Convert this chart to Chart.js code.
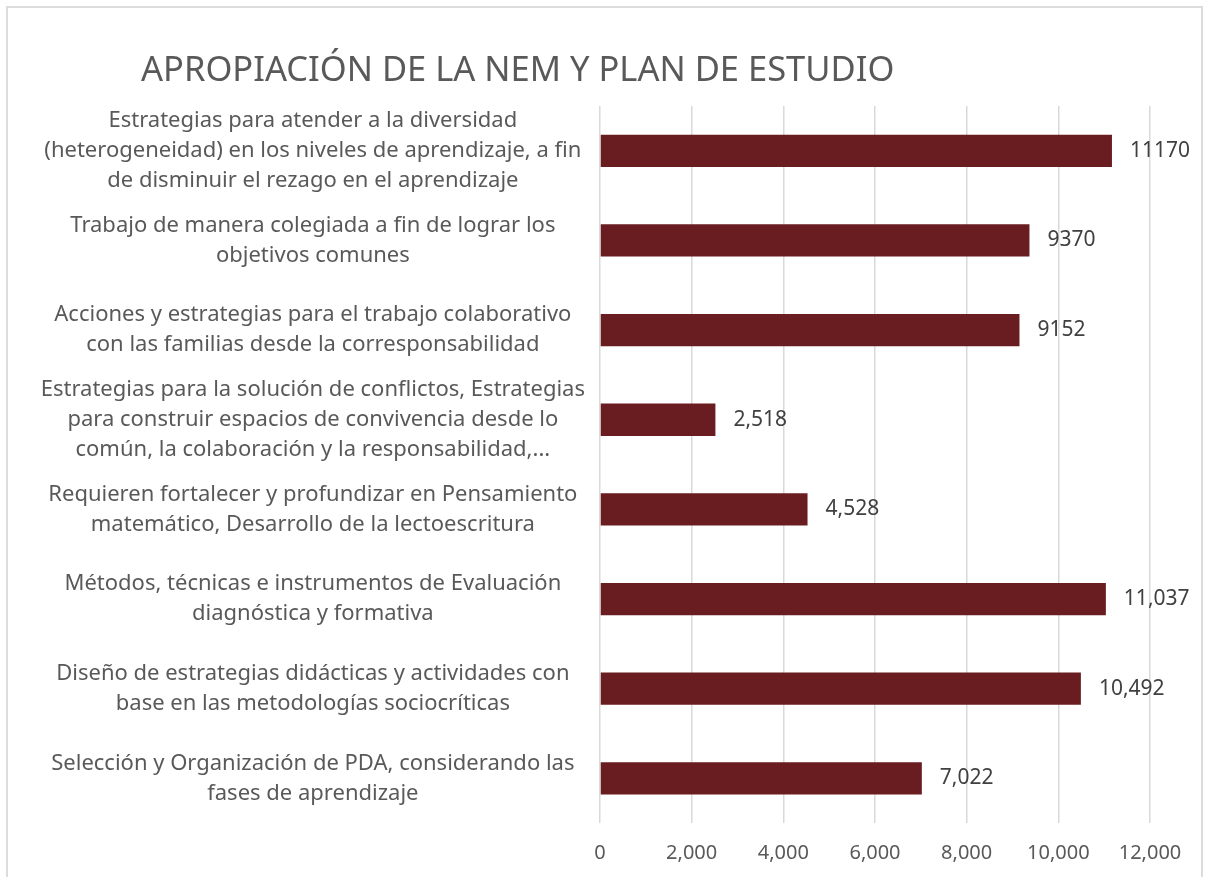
<!DOCTYPE html>
<html>
<head>
<meta charset="utf-8">
<script src="https://cdn.jsdelivr.net/npm/chart.js@4/dist/chart.umd.min.js"></script>
<style>
    body { margin: 0; background: #fff; }
    .frame {
        position: absolute;
        left: 6px;
        top: 6px;
        width: 1197px;
        height: 877px;
        border: 2px solid #dcdcdc;
        box-sizing: border-box;
    }
    canvas { position: absolute; left: 2px; top: 2px; }
</style>
</head>
<body>
<div class="frame"><canvas id="chart" width="1193" height="873"></canvas></div>
<script>
// Data
const chartTitle = 'APROPIACIÓN DE LA NEM Y PLAN DE ESTUDIO';
const categories = [
    ['Estrategias para atender a la diversidad', '(heterogeneidad) en los niveles de aprendizaje, a fin', 'de disminuir el rezago en el aprendizaje'],
    ['Trabajo de manera colegiada a fin de lograr los', 'objetivos comunes'],
    ['Acciones y estrategias para el trabajo colaborativo', 'con las familias desde la corresponsabilidad'],
    ['Estrategias para la solución de conflictos, Estrategias', 'para construir espacios de convivencia desde lo', 'común, la colaboración y la responsabilidad,...'],
    ['Requieren fortalecer y profundizar en Pensamiento', 'matemático, Desarrollo de la lectoescritura'],
    ['Métodos, técnicas e instrumentos de Evaluación', 'diagnóstica y formativa'],
    ['Diseño de estrategias didácticas y actividades con', 'base en las metodologías sociocríticas'],
    ['Selección y Organización de PDA, considerando las', 'fases de aprendizaje']
];
const values = [11170, 9370, 9152, 2518, 4528, 11037, 10492, 7022];
const valueLabels = ['11170', '9370', '9152', '2,518', '4,528', '11,037', '10,492', '7,022'];
const xTicks = [0, 2000, 4000, 6000, 8000, 10000, 12000];

const FONT = '"Noto Sans", sans-serif';
const GREY = '#595959';

// Title drawn at the top-left like the original
const titlePlugin = {
    id: 'leftTitle',
    afterDraw(chart) {
        const ctx = chart.ctx;
        ctx.save();
        ctx.font = '34.5px ' + FONT;
        ctx.fillStyle = GREY;
        ctx.textAlign = 'left';
        ctx.textBaseline = 'alphabetic';
        ctx.fillText(chartTitle, 131, 71);
        ctx.restore();
    }
};

// Value labels to the right of each bar
const valueLabelPlugin = {
    id: 'valueLabels',
    afterDatasetsDraw(chart) {
        const ctx = chart.ctx;
        const meta = chart.getDatasetMeta(0);
        ctx.save();
        ctx.font = '21px ' + FONT;
        ctx.fillStyle = '#404040';
        ctx.textAlign = 'left';
        ctx.textBaseline = 'middle';
        meta.data.forEach((bar, i) => {
            ctx.fillText(valueLabels[i], bar.x + 18, bar.y);
        });
        ctx.restore();
    }
};

new Chart(document.getElementById('chart'), {
    type: 'bar',
    data: {
        labels: categories,
        datasets: [{
            data: values,
            backgroundColor: '#6A1D21',
            borderWidth: 0,
            barPercentage: 0.36,
            categoryPercentage: 1
        }]
    },
    options: {
        indexAxis: 'y',
        responsive: false,
        animation: false,
        layout: { padding: { top: 96, right: 53, bottom: 0, left: 0 } },
        plugins: {
            legend: { display: false },
            tooltip: { enabled: false }
        },
        scales: {
            x: {
                min: 0,
                max: 12000,
                afterBuildTicks(scale) {
                    scale.ticks = xTicks.map(v => ({ value: v }));
                },
                afterFit(scale) { scale.height = 59; },
                grid: { color: '#d9d9d9', lineWidth: 1.5, drawTicks: false },
                border: { display: false },
                ticks: {
                    color: GREY,
                    font: { family: FONT, size: 20 },
                    padding: 18,
                    callback: v => v.toLocaleString('en-US')
                }
            },
            y: {
                afterFit(scale) { scale.width = 590; },
                grid: { display: false, drawTicks: false },
                border: { display: false },
                ticks: {
                    color: GREY,
                    crossAlign: 'center',
                    padding: 15,
                    font: { family: FONT, size: 22, lineHeight: 1.36 }
                }
            }
        }
    },
    plugins: [titlePlugin, valueLabelPlugin]
});
</script>
</body>
</html>
